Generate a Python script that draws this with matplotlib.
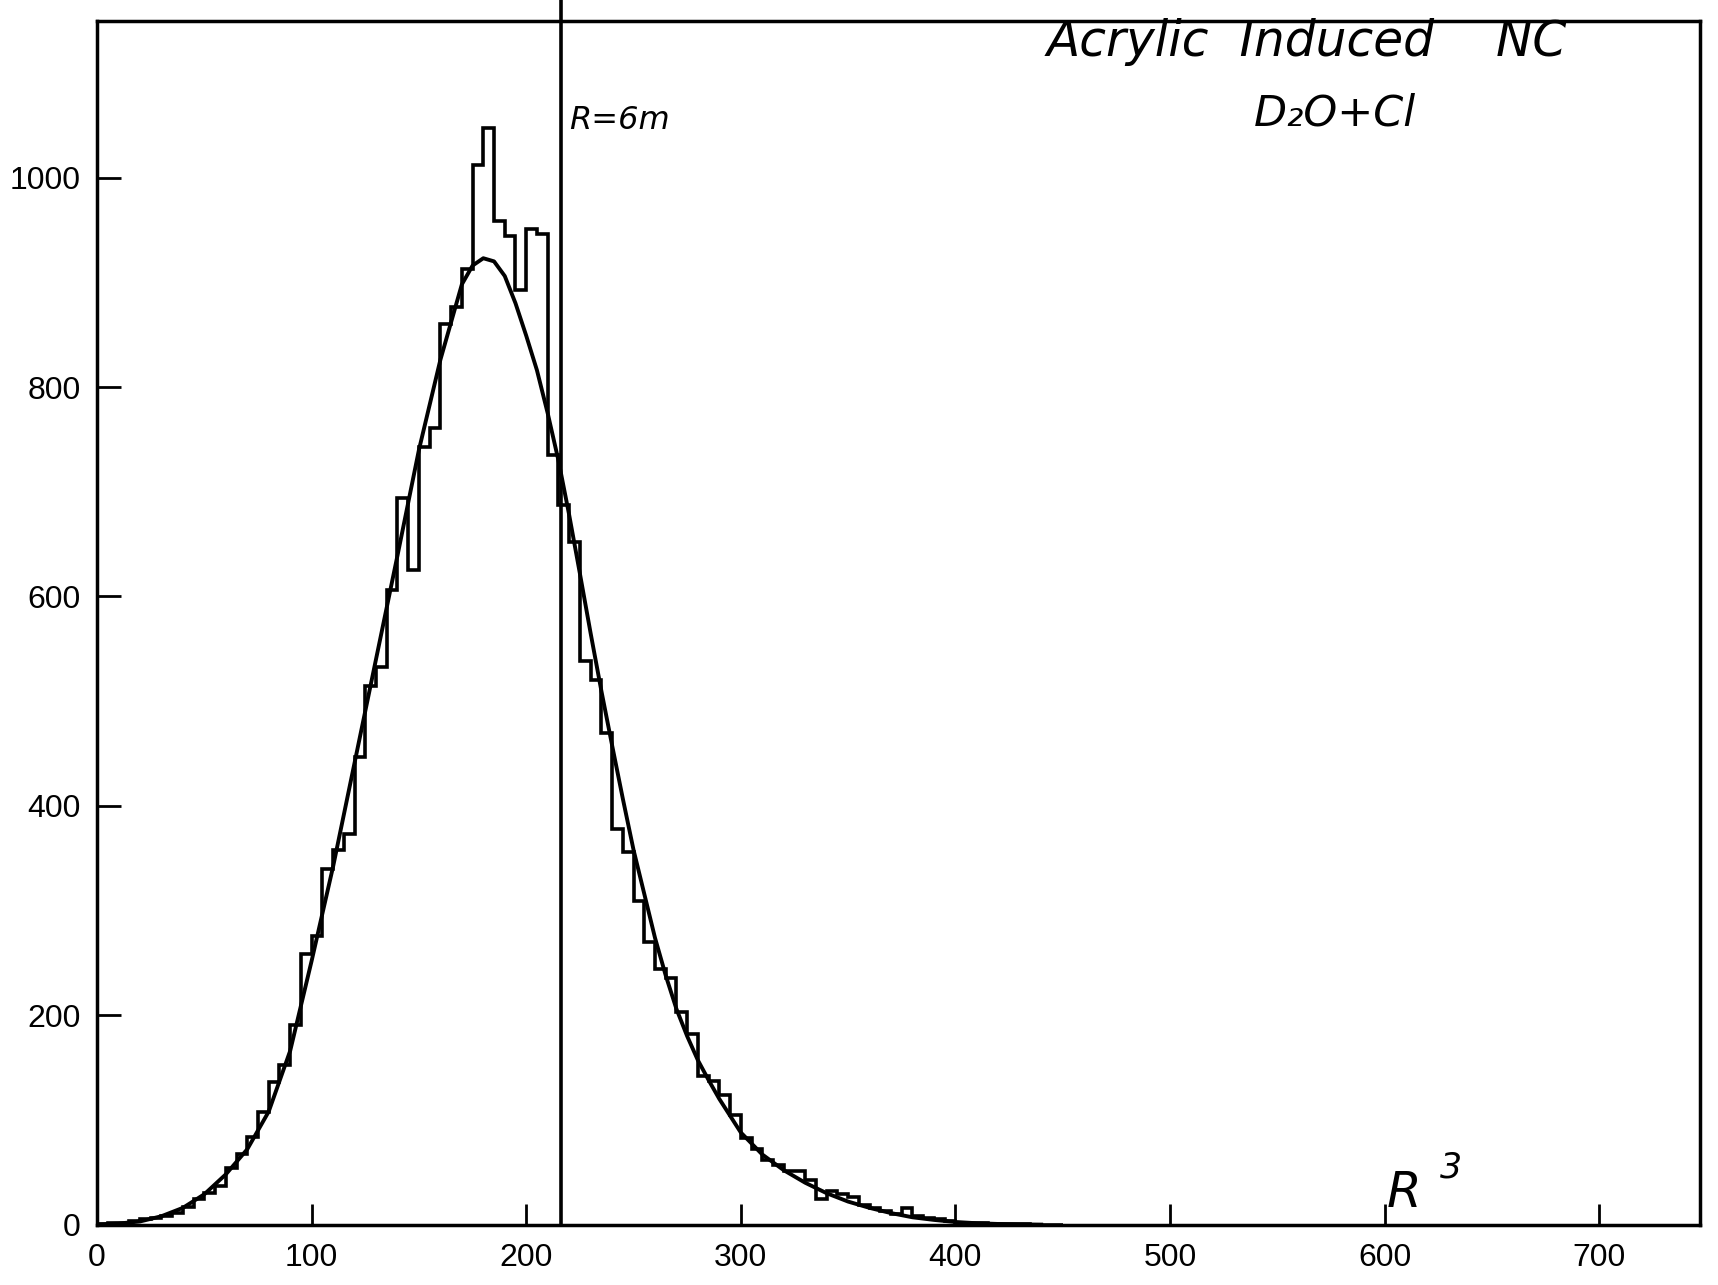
import numpy as np
import matplotlib
matplotlib.use("Agg")
import matplotlib.pyplot as plt

# histogram of R^3, 5-unit bins starting at 0 (counts)
bin_width = 5
counts = [
    1, 2, 2, 3, 5, 6, 8, 11, 17, 24,
    30, 37, 54, 67, 84, 108, 136, 152, 191, 258,
    276, 340, 358, 373, 447, 514, 533, 606, 694, 625,
    743, 761, 860, 876, 913, 1012, 1047, 959, 944, 893,
    951, 946, 735, 687, 652, 538, 520, 470, 378, 356,
    309, 270, 244, 236, 203, 182, 142, 137, 124, 105,
    83, 72, 62, 57, 51, 51, 43, 24, 32, 29,
    26, 19, 16, 13, 10, 16, 8, 6, 5, 3,
    2, 2, 2, 1, 1, 1, 1, 0, 0, 0,
]

# fitted curve, sampled by eye
fit_x = [0, 10, 20, 30, 40, 50, 60, 70, 80, 90, 100, 110, 120, 130, 140,
         150, 160, 170, 175, 180, 185, 190, 195, 200, 205, 210, 215, 220,
         225, 230, 235, 240, 245, 250, 255, 260, 265, 270, 275, 280, 285,
         290, 300, 310, 320, 330, 340, 350, 360, 370, 380, 390, 400, 410,
         420, 430, 440]
fit_y = [0, 1, 3, 8, 16, 29, 48, 72, 108, 166, 252, 342, 441, 540, 639,
         740, 826, 898, 916, 923, 920, 906, 880, 849, 816, 775, 730, 678,
         622, 565, 510, 458, 407, 358, 316, 274, 238, 206, 180, 157, 138,
         120, 88, 67, 52, 40, 30, 22, 16, 11, 7, 4.5, 2.5, 1.3,
         0.6, 0.2, 0]

r_cut = 216  # R = 6 m  ->  R^3 = 216
x_ticks = [0, 100, 200, 300, 400, 500, 600, 700]
y_ticks = [0, 200, 400, 600, 800, 1000]

edges = np.arange(len(counts) + 1) * bin_width

fig = plt.figure(figsize=(17.18, 12.85), dpi=100)
ax = fig.add_axes([0.0565, 0.047, 0.933, 0.937])

ax.stairs(counts, edges, color="black", lw=2.6, baseline=0)
ax.plot(fit_x, fit_y, color="black", lw=2.8)
ax.axvline(r_cut, ymin=0, ymax=1.02, color="black", lw=2.6, clip_on=False)

ax.set_xlim(0, 747)
ax.set_ylim(0, 1150)
ax.set_xticks(x_ticks)
ax.set_yticks(y_ticks)
for lab in ax.get_xticklabels() + ax.get_yticklabels():
    lab.set_family("Liberation Sans")
ax.tick_params(axis="both", direction="in", width=2.0, labelsize=23, color="black")
ax.tick_params(axis="x", length=15, pad=13)
ax.tick_params(axis="y", length=17, pad=12)
for s in ax.spines.values():
    s.set_linewidth(2.5)

# handwritten annotations
hand = dict(family="DejaVu Sans", style="italic", color="black")
ax.text(r_cut + 4, 1055, "R=6m", fontsize=23, ha="left", va="center", **hand)
fig.text(0.609, 0.967, "Acrylic  Induced    NC", fontsize=35, ha="left", va="center", **hand)
fig.text(0.730, 0.912, "D\u2082O+Cl", fontsize=31, ha="left", va="center", **hand)
fig.text(0.807, 0.053, "R", fontsize=36, ha="left", va="bottom", **hand)
fig.text(0.838, 0.078, "3", fontsize=25, ha="left", va="bottom", **hand)

fig.savefig("out.png", dpi=100, facecolor="white")
